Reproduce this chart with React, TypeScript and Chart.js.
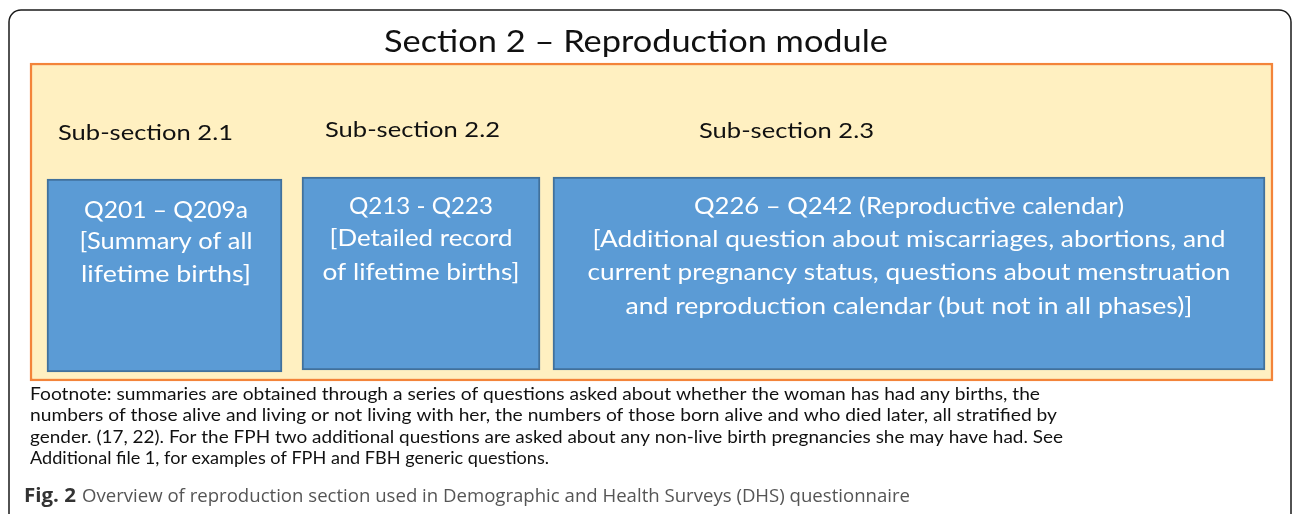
import React, { useEffect, useRef } from "react";
import { Chart, registerables } from "chart.js";

Chart.register(...registerables);

// ---- data ----
const sectionTitle = "Section 2 – Reproduction module";
const subsectionLabels = ["Sub-section 2.1", "Sub-section 2.2", "Sub-section 2.3"];
// blue boxes: horizontal interval and vertical interval in diagram units
const boxStart = [47, 302, 553];
const boxEnd = [282, 540, 1265];
const boxTop = [179, 177, 177];
const boxBottom = [372, 370, 370];
// section (yellow) frame
const frameStart = [30];
const frameEnd = [1273];
const frameTop = [63];
const frameBottom = [381];

const boxLines: string[][] = [
  ["Q201 – Q209a", "[Summary of all", "lifetime births]"],
  ["Q213 - Q223", "[Detailed record", "of lifetime births]"],
  [
    "Q226 – Q242 (Reproductive calendar)",
    "[Additional question about miscarriages, abortions, and",
    "current pregnancy status, questions about menstruation",
    "and reproduction calendar (but not in all phases)]",
  ],
];

const footnoteLines = [
  "Footnote: summaries are obtained through a series of questions asked about whether the woman has had any births, the",
  "numbers of those alive and living or not living with her, the numbers of those born alive and who died later, all stratified by",
  "gender. (17, 22). For the FPH two additional questions are asked about any non-live birth pregnancies she may have had. See",
  "Additional file 1, for examples of FPH and FBH generic questions.",
];
const captionLabel = "Fig. 2";
const captionText = "Overview of reproduction section used in Demographic and Health Surveys (DHS) questionnaire";

// ---- layout (text placement, in diagram units) ----
const W = 1292;
const H = 514;
const titleLayout = { cx: 636, cy: 42, w: 504, size: 31 };
const subLayout = [
  { x: 58, cy: 133, w: 175 },
  { x: 325, cy: 130, w: 175 },
  { x: 699, cy: 131, w: 175 },
];
const boxTextLayout = [
  { cx: 166, ys: [211, 242, 275], ws: [164, 173, 170] },
  { cx: 421, ys: [207, 239, 273], ws: [144, 183, 197] },
  { cx: 909, ys: [207, 240, 273, 307], ws: [430, 633, 643, 567] },
];
const footLayout = { x: 30, ys: [395, 416, 438, 459], ws: [1010, 1027, 1033, 519], size: 17 };
const captionLayout = { x: 24, cy: 497, labelW: 52, gap: 6, textEnd: 910, size: 19 };

const SANS = "Lato, 'Open Sans', 'Noto Sans', sans-serif";
const NARROW = "'Liberation Sans Narrow', 'Open Sans', 'Noto Sans', sans-serif";

function fitText(
  ctx: CanvasRenderingContext2D,
  text: string,
  x: number,
  y: number,
  font: string,
  target: number,
  align: CanvasTextAlign,
  color: string
) {
  ctx.save();
  ctx.font = font;
  const w = ctx.measureText(text).width || 1;
  const s = target / w;
  ctx.translate(x, y);
  ctx.scale(s, 1);
  ctx.textAlign = align;
  ctx.textBaseline = "middle";
  ctx.fillStyle = color;
  ctx.fillText(text, 0, 0);
  ctx.restore();
}

const decorPlugin = {
  id: "decor",
  beforeDatasetsDraw(chart: any) {
    const { ctx } = chart;
    const xs = chart.scales.x;
    const ys = chart.scales.y;
    ctx.save();
    ctx.fillStyle = "#ffffff";
    ctx.fillRect(0, 0, W, H);
    ctx.strokeStyle = "#1a1a1a";
    ctx.lineWidth = 1.5;
    const l = xs.getPixelForValue(9);
    const t = ys.getPixelForValue(10);
    const r = xs.getPixelForValue(1291);
    const b = ys.getPixelForValue(540);
    ctx.beginPath();
    (ctx as any).roundRect(l, t, r - l, b - t, 12);
    ctx.stroke();
    ctx.restore();
  },
  afterDatasetsDraw(chart: any) {
    const { ctx } = chart;
    const xs = chart.scales.x;
    const ys = chart.scales.y;
    const px = (v: number) => xs.getPixelForValue(v);
    const py = (v: number) => ys.getPixelForValue(v);

    fitText(ctx, sectionTitle, px(titleLayout.cx), py(titleLayout.cy), `${titleLayout.size}px ${SANS}`, titleLayout.w, "center", "#111111");

    subsectionLabels.forEach((lab, i) => {
      const L = subLayout[i];
      fitText(ctx, lab, px(L.x), py(L.cy), `22px ${SANS}`, L.w, "left", "#111111");
    });

    boxLines.forEach((lines, i) => {
      const L = boxTextLayout[i];
      lines.forEach((line, j) => {
        fitText(ctx, line, px(L.cx), py(L.ys[j]), `23px ${SANS}`, L.ws[j], "center", "#ffffff");
      });
    });

    footnoteLines.forEach((line, j) => {
      fitText(ctx, line, px(footLayout.x), py(footLayout.ys[j]), `${footLayout.size}px ${SANS}`, footLayout.ws[j], "left", "#111111");
    });

    const c = captionLayout;
    fitText(ctx, captionLabel, px(c.x), py(c.cy), `bold ${c.size}px ${NARROW}`, c.labelW, "left", "#333333");
    const tx = c.x + c.labelW + c.gap;
    fitText(ctx, captionText, px(tx), py(c.cy), `${c.size}px ${NARROW}`, c.textEnd - tx, "left", "#555555");
  },
};

export default function App() {
  const ref = useRef<HTMLCanvasElement | null>(null);

  useEffect(() => {
    if (!ref.current) return;
    const makeSet = (s: number, e: number, t: number, b: number, fill: string, border: string, bw: number, order: number) => ({
      type: "bar" as const,
      data: [{ x: (s + e) / 2, y: [t, b] }],
      backgroundColor: fill,
      borderColor: border,
      borderWidth: bw,
      borderSkipped: false as any,
      barThickness: e - s,
      grouped: false,
      order,
    });

    const datasets: any[] = [];
    frameStart.forEach((s, i) =>
      datasets.push(makeSet(s, frameEnd[i], frameTop[i], frameBottom[i], "#FFF0C1", "#F3843A", 2.5, 10))
    );
    boxStart.forEach((s, i) =>
      datasets.push(makeSet(s, boxEnd[i], boxTop[i], boxBottom[i], "#5B9BD5", "#41719C", 2, 0))
    );

    const chart = new Chart(ref.current, {
      type: "bar",
      data: { datasets },
      options: {
        animation: false,
        responsive: false,
        maintainAspectRatio: false,
        events: [],
        layout: { padding: 0 },
        plugins: { legend: { display: false }, tooltip: { enabled: false }, title: { display: false } },
        scales: {
          x: { type: "linear", min: 0, max: W, display: false, offset: false, grid: { display: false } },
          y: { type: "linear", min: 0, max: H, reverse: true, display: false, grid: { display: false } },
        },
      } as any,
      plugins: [decorPlugin],
    });
    return () => chart.destroy();
  }, []);

  return (
    <div style={{ position: "fixed", left: 0, top: 0, width: W, height: H, background: "#fff" }}>
      <canvas ref={ref} width={W} height={H} style={{ display: "block", width: W, height: H }} />
    </div>
  );
}
